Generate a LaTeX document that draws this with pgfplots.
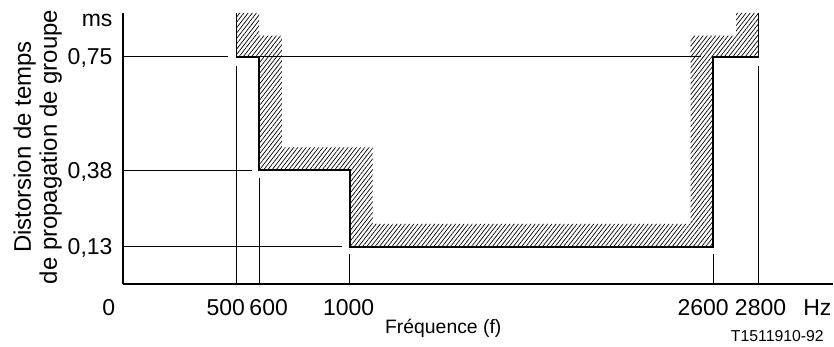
\documentclass[border=0pt]{standalone}
\usepackage{fontspec}
\setmainfont{Liberation Sans}
\usepackage{pgfplots}
\pgfplotsset{compat=1.18}
\usetikzlibrary{patterns.meta}

% Limit of the permitted region (lower edge of the mask)
\pgfplotstableread{
f    d
500  0.75
600  0.75
600  0.38
1000 0.38
1000 0.13
2600 0.13
2600 0.75
2800 0.75
}\maskedge

% Hatched forbidden band
\pgfplotstableread{
f    d
500  0.8936
500  0.75
600  0.75
600  0.38
1000 0.38
1000 0.13
2600 0.13
2600 0.75
2800 0.75
2800 0.8936
2700 0.8936
2700 0.82
2500 0.82
2500 0.205
1100 0.205
1100 0.455
700  0.455
700  0.82
600  0.82
600  0.8936
}\maskband

\newcommand\numfont{\fontsize{11.5}{13}\selectfont}
\newcommand\labfont{\fontsize{12}{14}\selectfont}

\begin{document}
\begin{tikzpicture}[every node/.style={inner sep=0pt}]
\begin{axis}[
  scale only axis,
  width=355.5pt, height=135.5pt,
  xmin=0, xmax=3128, ymin=0.0094, ymax=0.8936,
  axis x line=bottom, axis y line=left,
  axis line style={-, line width=0.8pt},
  xtick=\empty, ytick=\empty,
  clip=false,
]
  % overall extent of the drawing
  \path (axis cs:-541,-0.196) rectangle (axis cs:3128,0.936);

  \addplot[draw=none, pattern={Lines[angle=52, distance=1.65pt, line width=0.35pt]}]
    table[x=f, y=d] {\maskband} -- cycle;

  % guide lines
  \addplot[black, line width=0.5pt] coordinates {(0,0.75) (462,0.75)};
  \addplot[black, line width=0.5pt] coordinates {(600,0.75) (2548,0.75)};
  \addplot[black, line width=0.5pt] coordinates {(0,0.38) (567,0.38)};
  \addplot[black, line width=0.5pt] coordinates {(0,0.13) (963,0.13)};
  \addplot[black, line width=0.5pt] coordinates {(500,0.0094) (500,0.72)};
  \addplot[black, line width=0.5pt] coordinates {(600,0.0094) (600,0.354)};
  \addplot[black, line width=0.5pt] coordinates {(1000,0.0094) (1000,0.107)};
  \addplot[black, line width=0.5pt] coordinates {(2600,0.0094) (2600,0.107)};
  \addplot[black, line width=0.5pt] coordinates {(2800,0.0094) (2800,0.72)};

  % outer edges of the band
  \addplot[black, line width=0.5pt] coordinates {(500,0.75) (500,0.8936)};
  \addplot[black, line width=0.5pt] coordinates {(2800,0.75) (2800,0.8936)};

  \addplot[black, line width=1pt] table[x=f, y=d] {\maskedge};

  % frequency labels
  \node[anchor=base, font=\numfont] at (axis cs:-62,-0.095) {0};
  \node[anchor=base, font=\numfont] at (axis cs:453,-0.095) {500};
  \node[anchor=base, font=\numfont] at (axis cs:642,-0.095) {600};
  \node[anchor=base, font=\numfont] at (axis cs:994,-0.095) {1000};
  \node[anchor=base, font=\numfont] at (axis cs:2555,-0.095) {2600};
  \node[anchor=base, font=\numfont] at (axis cs:2808,-0.095) {2800};
  \node[anchor=base east, font=\numfont] at (axis cs:3122,-0.095) {Hz};
  \node[anchor=base west, font=\fontsize{9.7}{11}\selectfont] at (axis cs:1153,-0.154) {Fréquence (f)};
  \node[anchor=base east, font=\fontsize{7.9}{9}\selectfont] at (axis cs:3088,-0.18) {T1511910-92};

  % delay labels
  \node[anchor=base east, font=\numfont] at (axis cs:-44,0.848) {ms};
  \node[anchor=base east, font=\numfont] at (axis cs:-44,0.724) {0,75};
  \node[anchor=base east, font=\numfont] at (axis cs:-44,0.354) {0,38};
  \node[anchor=base east, font=\numfont] at (axis cs:-44,0.104) {0,13};

  \node[rotate=90, anchor=base, font=\labfont] at (axis cs:-405,0.456) {Distorsion de temps};
  \node[rotate=90, anchor=base, font=\labfont] at (axis cs:-290,0.456) {de propagation de groupe};
\end{axis}
\end{tikzpicture}
\end{document}
